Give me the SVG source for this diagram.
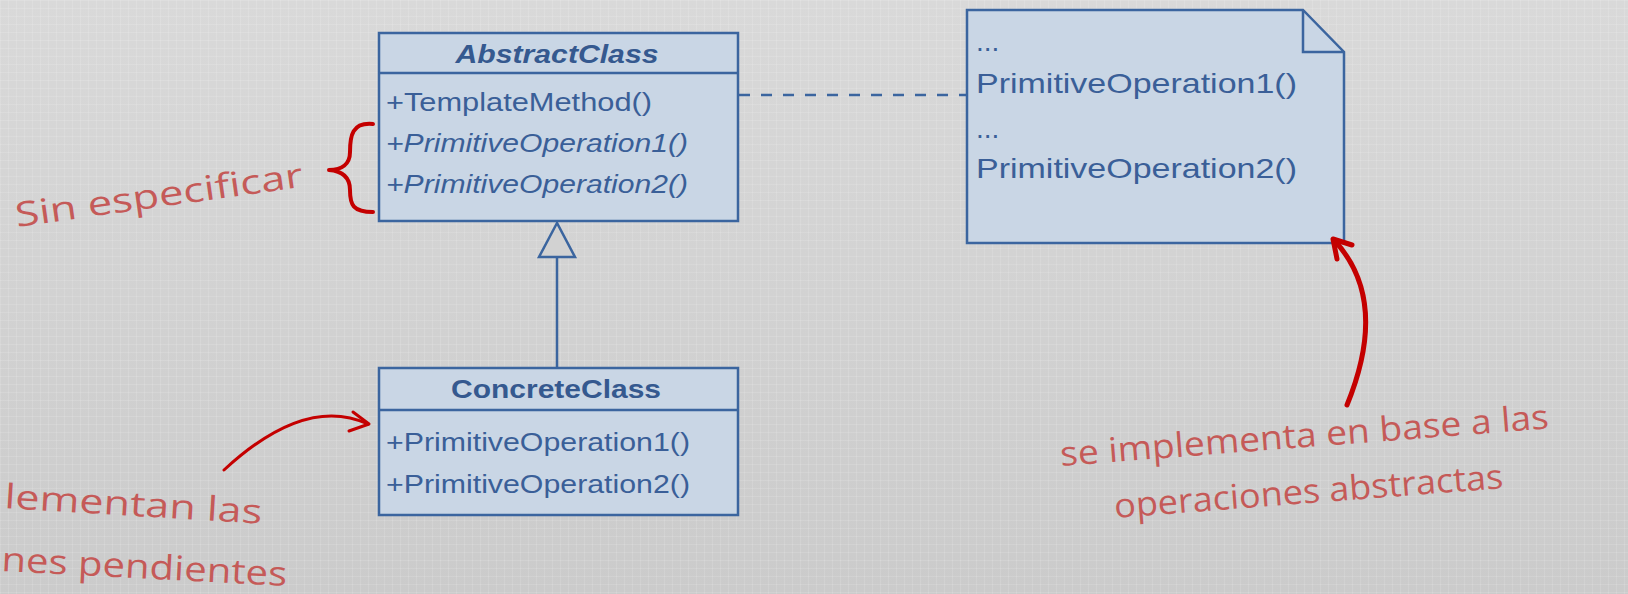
<svg xmlns="http://www.w3.org/2000/svg" width="1628" height="594" viewBox="0 0 1628 594">
<defs>
<linearGradient id="bg" x1="0" y1="0" x2="0" y2="1">
<stop offset="0" stop-color="#d9d9d9"/>
<stop offset="1" stop-color="#cbcbcb"/>
</linearGradient>
<pattern id="grid" width="8" height="8" patternUnits="userSpaceOnUse">
<path d="M0 0.5H8M0.5 0V8" stroke="#ffffff" stroke-opacity="0.12" stroke-width="1" fill="none"/>
</pattern>
<style>
.box{fill:#c9d6e5;stroke:#3b659f;stroke-width:2.5}
.div{stroke:#3b659f;stroke-width:2.5}
.title{font-family:"Liberation Sans",Arial,sans-serif;font-weight:bold;font-size:25px;fill:#35598f}
.mem{font-family:"Liberation Sans",Arial,sans-serif;font-size:25px;fill:#3a5f98}
.note{font-family:"Liberation Sans",Arial,sans-serif;font-size:28px;fill:#3a5f98}
.hand{font-family:"Open Sans","DejaVu Sans",sans-serif;font-weight:400;font-size:34px;fill:#c55a58}
.red{fill:none;stroke:#c40000;stroke-linecap:round;stroke-linejoin:round}
</style>
</defs>
<rect width="1628" height="594" fill="url(#bg)"/>
<rect width="1628" height="594" fill="url(#grid)"/>

<g id="connectors">
<line x1="739" y1="95" x2="966" y2="95" stroke="#3b659f" stroke-width="2.5" stroke-dasharray="11 11"/>
<line x1="557" y1="257" x2="557" y2="368" stroke="#3b659f" stroke-width="2.5"/>
<polygon points="557,223 539,257 575,257" fill="#d2d2d2" stroke="#3b659f" stroke-width="2.5" stroke-linejoin="miter"/>
</g>

<g id="AbstractClass">
<rect class="box" x="379" y="33" width="359" height="188"/>
<line class="div" x1="379" y1="73" x2="738" y2="73"/>
<text class="title" x="557" y="63" text-anchor="middle" font-style="italic" textLength="203" lengthAdjust="spacingAndGlyphs">AbstractClass</text>
<text class="mem" x="386" y="111" textLength="266" lengthAdjust="spacingAndGlyphs">+TemplateMethod()</text>
<text class="mem" x="386" y="152" font-style="italic" textLength="302" lengthAdjust="spacingAndGlyphs">+PrimitiveOperation1()</text>
<text class="mem" x="386" y="193" font-style="italic" textLength="302" lengthAdjust="spacingAndGlyphs">+PrimitiveOperation2()</text>
</g>

<g id="ConcreteClass">
<rect class="box" x="379" y="368" width="359" height="147"/>
<line class="div" x1="379" y1="410" x2="738" y2="410"/>
<text class="title" x="556" y="398" text-anchor="middle" textLength="210" lengthAdjust="spacingAndGlyphs">ConcreteClass</text>
<text class="mem" x="386" y="451" textLength="304" lengthAdjust="spacingAndGlyphs">+PrimitiveOperation1()</text>
<text class="mem" x="386" y="493" textLength="304" lengthAdjust="spacingAndGlyphs">+PrimitiveOperation2()</text>
</g>

<g id="Note">
<path class="box" d="M967 10H1303L1344 52V243H967Z"/>
<path d="M1303 10V52H1344" fill="none" stroke="#3b659f" stroke-width="2.5"/>
<text class="note" x="976" y="51">...</text>
<text class="note" x="976" y="93" textLength="321" lengthAdjust="spacingAndGlyphs">PrimitiveOperation1()</text>
<text class="note" x="976" y="138">...</text>
<text class="note" x="976" y="178" textLength="321" lengthAdjust="spacingAndGlyphs">PrimitiveOperation2()</text>
</g>

<g id="annotation-sin-especificar">
<path class="red" stroke-width="4" d="M373 124C352 122 350 136 350 152C350 164 342 170 329 170C342 171 350 177 350 190C350 205 353 212 373 212"/>
<text class="hand" transform="translate(17 227) rotate(-8)" textLength="290" lengthAdjust="spacingAndGlyphs">Sin especificar</text>
</g>

<g id="annotation-implementan">
<path class="red" stroke-width="3" d="M224 470Q305 395 368 424"/>
<path class="red" stroke-width="3" d="M353 412L369 424L349 431"/>
<text class="hand" transform="translate(4 508) rotate(3.5)" textLength="258" lengthAdjust="spacingAndGlyphs">lementan las</text>
<text class="hand" transform="translate(1 571) rotate(3)" textLength="286" lengthAdjust="spacingAndGlyphs">nes pendientes</text>
</g>

<g id="annotation-se-implementa">
<path class="red" stroke-width="5" d="M1347 405Q1390 300 1334 240"/>
<path class="red" stroke-width="5" d="M1352 245L1333 239L1337 259"/>
<text class="hand" transform="translate(1061 466) rotate(-4.4)" textLength="490" lengthAdjust="spacingAndGlyphs">se implementa en base a las</text>
<text class="hand" transform="translate(1115 518) rotate(-4.4)" textLength="390" lengthAdjust="spacingAndGlyphs">operaciones abstractas</text>
</g>
</svg>
